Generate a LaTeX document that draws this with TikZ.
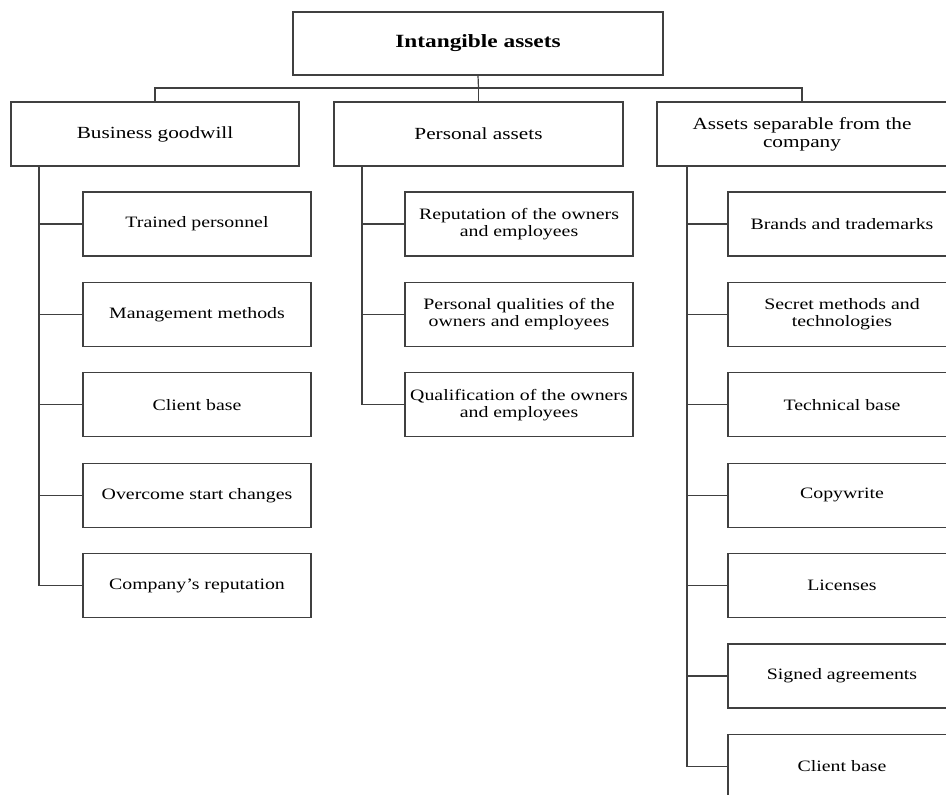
\documentclass[tikz,border=0pt]{standalone}
\usepackage{fontspec}
\setmainfont[FakeStretch=1.25]{Liberation Serif}
\begin{document}
\begin{tikzpicture}[x=0.75pt,y=-0.75pt,
  box/.style={draw=black!75,line width=0.9pt,rectangle,inner sep=0pt,align=center},
  child/.style={box,minimum width=171pt,minimum height=48pt,
    font=\fontsize{11.9pt}{12.5pt}\selectfont},
  lvtwo/.style={box,minimum height=48pt,font=\fontsize{12.75pt}{13.5pt}\selectfont},
  conn/.style={line width=0.9pt,draw=black!75}]
\useasboundingbox (0,0) rectangle (946,794);
% top
\node[box,minimum width=277.5pt,minimum height=47.25pt,font=\fontsize{14pt}{16pt}\selectfont\bfseries] (top) at (478,43.5) {Intangible assets};
% level 2
\node[lvtwo,minimum width=216pt] (bg) at (155,134) {Business goodwill};
\node[lvtwo,minimum width=216.75pt] (pa) at (478.5,134) {Personal assets};
\node[lvtwo,minimum width=217.5pt] (as) at (802,134) {Assets separable from the\\company};
% business goodwill children
\node[child] (b1) at (197,224) {Trained personnel};
\node[child] (b2) at (197,314.4) {Management methods};
\node[child] (b3) at (197,404.8) {Client base};
\node[child] (b4) at (197,495.2) {Overcome start changes};
\node[child] (b5) at (197,585.6) {Company’s reputation};
% personal children
\node[child] (p1) at (519,224) {Reputation of the owners\\and employees};
\node[child] (p2) at (519,314.4) {Personal qualities of the\\owners and employees};
\node[child] (p3) at (519,404.8) {Qualification of the owners\\and employees};
% separable children
\node[child] (s1) at (842,224) {Brands and trademarks};
\node[child] (s2) at (842,314.4) {Secret methods and\\technologies};
\node[child] (s3) at (842,404.8) {Technical base};
\node[child] (s4) at (842,495.2) {Copywrite};
\node[child] (s5) at (842,585.6) {Licenses};
\node[child] (s6) at (842,676) {Signed agreements};
\node[child] (s7) at (842,766.4) {Client base};
% bus
\coordinate (bus) at (478.5,88);
\draw[conn] (top.south) -- (bus);
\draw[conn] (bg.north) |- (bus) -| (as.north);
\draw[conn] (bus) -- (pa.north);
% trunks
\coordinate (bgt) at (39,166);
\coordinate (pat) at (362,166);
\coordinate (ast) at (687,166);
\draw[conn] (bgt) |- (b5.west);
\foreach \n in {b1,b2,b3,b4} \draw[conn] (\n.west) -- (\n.west -| bgt);
\draw[conn] (pat) |- (p3.west);
\foreach \n in {p1,p2} \draw[conn] (\n.west) -- (\n.west -| pat);
\draw[conn] (ast) |- (s7.west);
\foreach \n in {s1,s2,s3,s4,s5,s6} \draw[conn] (\n.west) -- (\n.west -| ast);
\end{tikzpicture}
\end{document}
